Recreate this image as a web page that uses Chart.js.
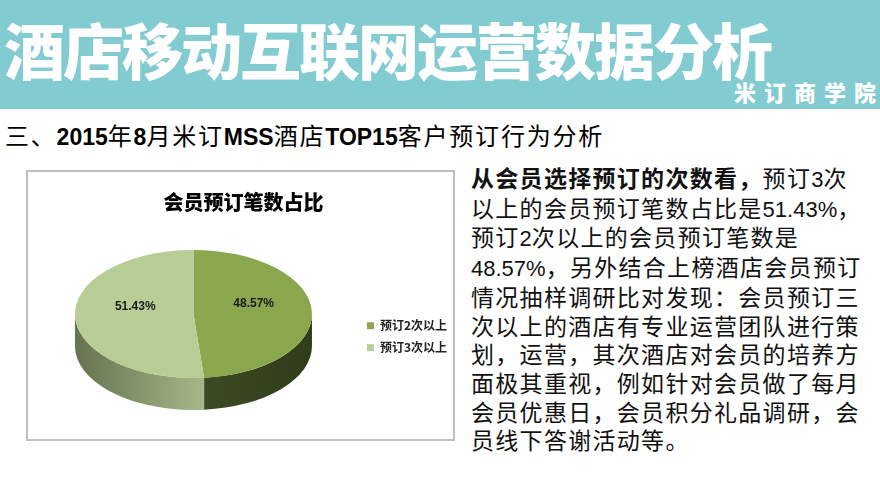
<!DOCTYPE html>
<html>
<head>
<meta charset="utf-8">
<script src="https://cdn.jsdelivr.net/npm/chart.js@4.4.1/dist/chart.umd.min.js"></script>
<style>
  html, body {
    margin: 0;
    padding: 0;
    width: 880px;
    height: 495px;
    overflow: hidden;
    background: #fff;
    font-family: 'Liberation Sans', 'Noto Sans CJK SC', sans-serif;
  }
  .banner {
    position: absolute;
    left: 0;
    top: 0;
    width: 880px;
    height: 109px;
    background: #82cbd0;
  }
  .banner .main {
    position: absolute;
    left: 4px;
    top: 18px;
    font-family: 'Noto Sans CJK SC', sans-serif;
    font-size: 61px;
    line-height: 61px;
    font-weight: 900;
    letter-spacing: -2px;
    color: #fff;
    white-space: nowrap;
  }
  .banner .brand {
    position: absolute;
    right: -4px;
    top: 78px;
    font-family: 'Noto Sans CJK SC', sans-serif;
    font-size: 22px;
    line-height: 26px;
    font-weight: 900;
    letter-spacing: 8px;
    color: #fff;
    white-space: nowrap;
  }
  .subtitle {
    position: absolute;
    left: 5px;
    top: 122px;
    font-size: 24px;
    line-height: 30px;
    letter-spacing: 1.8px;
    color: #000;
    white-space: nowrap;
  }
  .subtitle b {
    font-family: 'Liberation Sans', sans-serif;
    font-size: 23px;
    letter-spacing: 0;
  }
  .box {
    position: absolute;
    left: 26px;
    top: 170px;
    width: 429px;
    height: 271px;
    box-sizing: border-box;
    border: 2px solid #bfbfbf;
  }
  #pie {
    position: absolute;
    left: 28px;
    top: 172px;
  }
  .text {
    position: absolute;
    left: 471px;
    top: 165px;
    font-size: 23px;
    line-height: 28.7px;
    letter-spacing: 1.3px;
    color: #111;
  }
  .text div {
    white-space: nowrap;
  }
  .text .n {
    font-family: 'Liberation Sans', sans-serif;
    font-size: 22px;
    letter-spacing: 0;
  }
</style>
</head>
<body>
<div class="banner">
  <div class="main">酒店移动互联网运营数据分析</div>
  <div class="brand">米订商学院</div>
</div>
<div class="subtitle">三、<b>2015</b>年<b>8</b>月米订<b>MSS</b>酒店<b>TOP15</b>客户预订行为分析</div>
<div class="box"></div>
<canvas id="pie" width="429" height="266"></canvas>
<div class="text">
  <div><b>从会员选择预订的次数看，</b>预订<span class="n">3</span>次</div>
  <div>以上的会员预订笔数占比是<span class="n">51.43%</span>，</div>
  <div>预订<span class="n">2</span>次以上的会员预订笔数是</div>
  <div><span class="n">48.57%</span>，另外结合上榜酒店会员预订</div>
  <div>情况抽样调研比对发现：会员预订三</div>
  <div>次以上的酒店有专业运营团队进行策</div>
  <div>划，运营，其次酒店对会员的培养方</div>
  <div>面极其重视，例如针对会员做了每月</div>
  <div>会员优惠日，会员积分礼品调研，会</div>
  <div>员线下答谢活动等。</div>
</div>
<script>
const categories = ['预订2次以上', '预订3次以上'];
const shares = [48.57, 51.43];

const topColors = ['#8aa74e', '#b7cd95'];
const TILT = 0.54;   // vertical squash of the pie top
const DEPTH = 32;    // height of the side wall

// fake 3D: draw the side wall, then squash the arcs into an ellipse
const pie3d = {
  id: 'pie3d',
  beforeDatasetsDraw(chart) {
    const ctx = chart.ctx;
    const arcs = chart.getDatasetMeta(0).data;
    const first = arcs[0];
    const cx = first.x;
    const cy = first.y;
    const r = first.outerRadius;

    arcs.forEach((arc, i) => {
      const a0 = Math.max(arc.startAngle, 0);
      const a1 = Math.min(arc.endAngle, Math.PI);
      if (a1 <= a0) return;
      const xa = cx + Math.cos(a0) * r;
      const xb = cx + Math.cos(a1) * r;
      const g = ctx.createLinearGradient(Math.min(xa, xb), 0, Math.max(xa, xb), 0);
      if (i === 0) {
        g.addColorStop(0, '#3d4b23');
        g.addColorStop(1, '#303c1b');
      } else {
        g.addColorStop(0, '#66734e');
        g.addColorStop(1, '#a6b889');
      }
      ctx.beginPath();
      ctx.ellipse(cx, cy, r, r * TILT, 0, a0, a1);
      ctx.ellipse(cx, cy + DEPTH, r, r * TILT, 0, a1, a0, true);
      ctx.closePath();
      ctx.fillStyle = g;
      ctx.fill();
    });

    ctx.save();
    ctx.translate(cx, cy);
    ctx.scale(1, TILT);
    ctx.translate(-cx, -cy);
  },
  afterDatasetsDraw(chart) {
    const ctx = chart.ctx;
    ctx.restore();
    const arcs = chart.getDatasetMeta(0).data;
    ctx.save();
    ctx.font = 'bold 12px "Liberation Sans", sans-serif';
    ctx.fillStyle = '#1a1a1a';
    ctx.textAlign = 'center';
    ctx.textBaseline = 'middle';
    arcs.forEach((arc, i) => {
      const p = arc.tooltipPosition();
      const y = arc.y + (p.y - arc.y) * TILT - 9;
      ctx.fillText(shares[i].toFixed(2) + '%', p.x + 1, y);
    });
    ctx.restore();
  },
};

const ctxPie = document?.getElementById('pie')?.getContext('2d');
new Chart(ctxPie, {
  type: 'pie',
  data: {
    labels: categories,
    datasets: [
      {
        data: shares,
        backgroundColor: topColors,
        borderWidth: 0,
        radius: 118.5,
      },
    ],
  },
  options: {
    responsive: false,
    animation: false,
    layout: {
      padding: { left: 2, right: 0, top: 0, bottom: 24 },
    },
    plugins: {
      title: {
        display: true,
        text: '会员预订笔数占比',
        color: '#000',
        font: { family: "'Noto Sans CJK SC', sans-serif", size: 20, weight: '900' },
        padding: { top: 18, bottom: 0 },
      },
      legend: {
        position: 'right',
        title: {
          display: true,
          text: ' ',
          font: { size: 12 },
          padding: { top: 73, bottom: 0 },
        },
        labels: {
          boxWidth: 7,
          boxHeight: 7,
          padding: 10,
          color: '#222',
          font: { family: "'Noto Sans CJK SC', sans-serif", size: 12, weight: 'bold' },
        },
      },
      tooltip: {
        enabled: false,
      },
    },
  },
  plugins: [pie3d],
});
</script>
</body>
</html>
